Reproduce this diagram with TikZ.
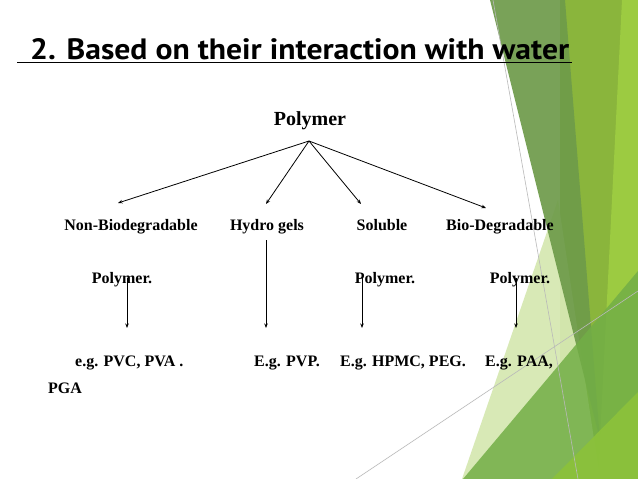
\documentclass[tikz,border=0pt]{standalone}
\usepackage{fontspec}
\setmainfont{Liberation Serif}
\newfontfamily\titlefont{PT Sans}
\usetikzlibrary{arrows.meta}
\definecolor{gdark}{HTML}{6E9B4A}
\definecolor{golive}{HTML}{8AB53C}
\definecolor{glight}{HTML}{9CCB41}
\definecolor{gpale}{HTML}{D6E8B3}
\definecolor{gmed}{HTML}{72AE46}
\definecolor{gyel}{HTML}{8CC23A}
\begin{document}
\begin{tikzpicture}[x=1pt,y=-1pt,
  lbl/.style={font=\fontsize{16}{19}\selectfont\bfseries, inner sep=0pt, anchor=base},
  arr/.style={-{Stealth[length=4.5pt,width=3.5pt]}, line width=0.8pt},
  deco/.style={draw=gray!55, line width=0.6pt}]
\useasboundingbox (0,0) rectangle (638,479);
\fill[white] (0,0) rectangle (638,479);
% right-hand decoration
\fill[golive] (560,0) -- (638,0) -- (638,479) -- (560,479) -- cycle;
\fill[glight] (622,0) -- (638,0) -- (638,479) -- (598,479) -- cycle;
\fill[gpale, opacity=0.95] (558,200) -- (600,479) -- (462,479) -- cycle;
\fill[gdark, opacity=0.92] (490,0) -- (565,0) -- (600,440) -- cycle;
\fill[gmed, opacity=0.85] (463,479) -- (638,271) -- (638,479) -- cycle;
\fill[gyel, opacity=0.9] (552,479) -- (638,392) -- (638,479) -- cycle;
\draw[deco] (493,0) -- (578,479);
\draw[deco] (356,479) -- (638,291);
% title
\node[anchor=base west, inner sep=0pt] (title) at (30,59.5)
  {\resizebox{539pt}{21pt}{\titlefont\bfseries 2. Based on their interaction with water}};
\draw[line width=1.6pt] (17,62.5) -- (572,62.5);
% tree
\node[lbl, font=\fontsize{20}{24}\selectfont\bfseries] (root) at (310,125) {Polymer};
\coordinate (apex) at (309,141);
\node[lbl] (nb) at (131,230) {Non-Biodegradable};
\node[lbl] (hg) at (267,230) {Hydro gels};
\node[lbl] (sol) at (382,230) {Soluble};
\node[lbl] (bd) at (500,230) {Bio-Degradable};
\node[lbl] (p1) at (122,283) {Polymer.};
\node[lbl] (p2) at (385,283) {Polymer.};
\node[lbl] (p3) at (520,283) {Polymer.};
\node[lbl, anchor=base west, align=left, font=\fontsize{16}{27}\selectfont\bfseries] (e1) at (48,393)
  {\hspace*{27pt}e.g. PVC, PVA .\\PGA};
\node[lbl] (e2) at (287,366) {E.g. PVP.};
\node[lbl] (e3) at (403,366) {E.g. HPMC, PEG.};
\node[lbl] (e4) at (519,366) {E.g. PAA,};
% arrow ends
\coordinate (tnb) at (118,203);
\coordinate (thg) at (266,204);
\coordinate (tsol) at (361,204);
\coordinate (tbd) at (486,208);
\coordinate (s1) at (127,278);
\coordinate (s2) at (266,240);
\coordinate (s3) at (362,278);
\coordinate (s4) at (516,278);
\coordinate (d1) at (127,328);
\coordinate (d2) at (266,328);
\coordinate (d3) at (362,328);
\coordinate (d4) at (516,328);
\draw[arr] (apex) -- (tnb);
\draw[arr] (apex) -- (thg);
\draw[arr] (apex) -- (tsol);
\draw[arr] (apex) -- (tbd);
\draw[arr] (s1) -- (d1);
\draw[arr] (s2) -- (d2);
\draw[arr] (s3) -- (d3);
\draw[arr] (s4) -- (d4);
\end{tikzpicture}
\end{document}
